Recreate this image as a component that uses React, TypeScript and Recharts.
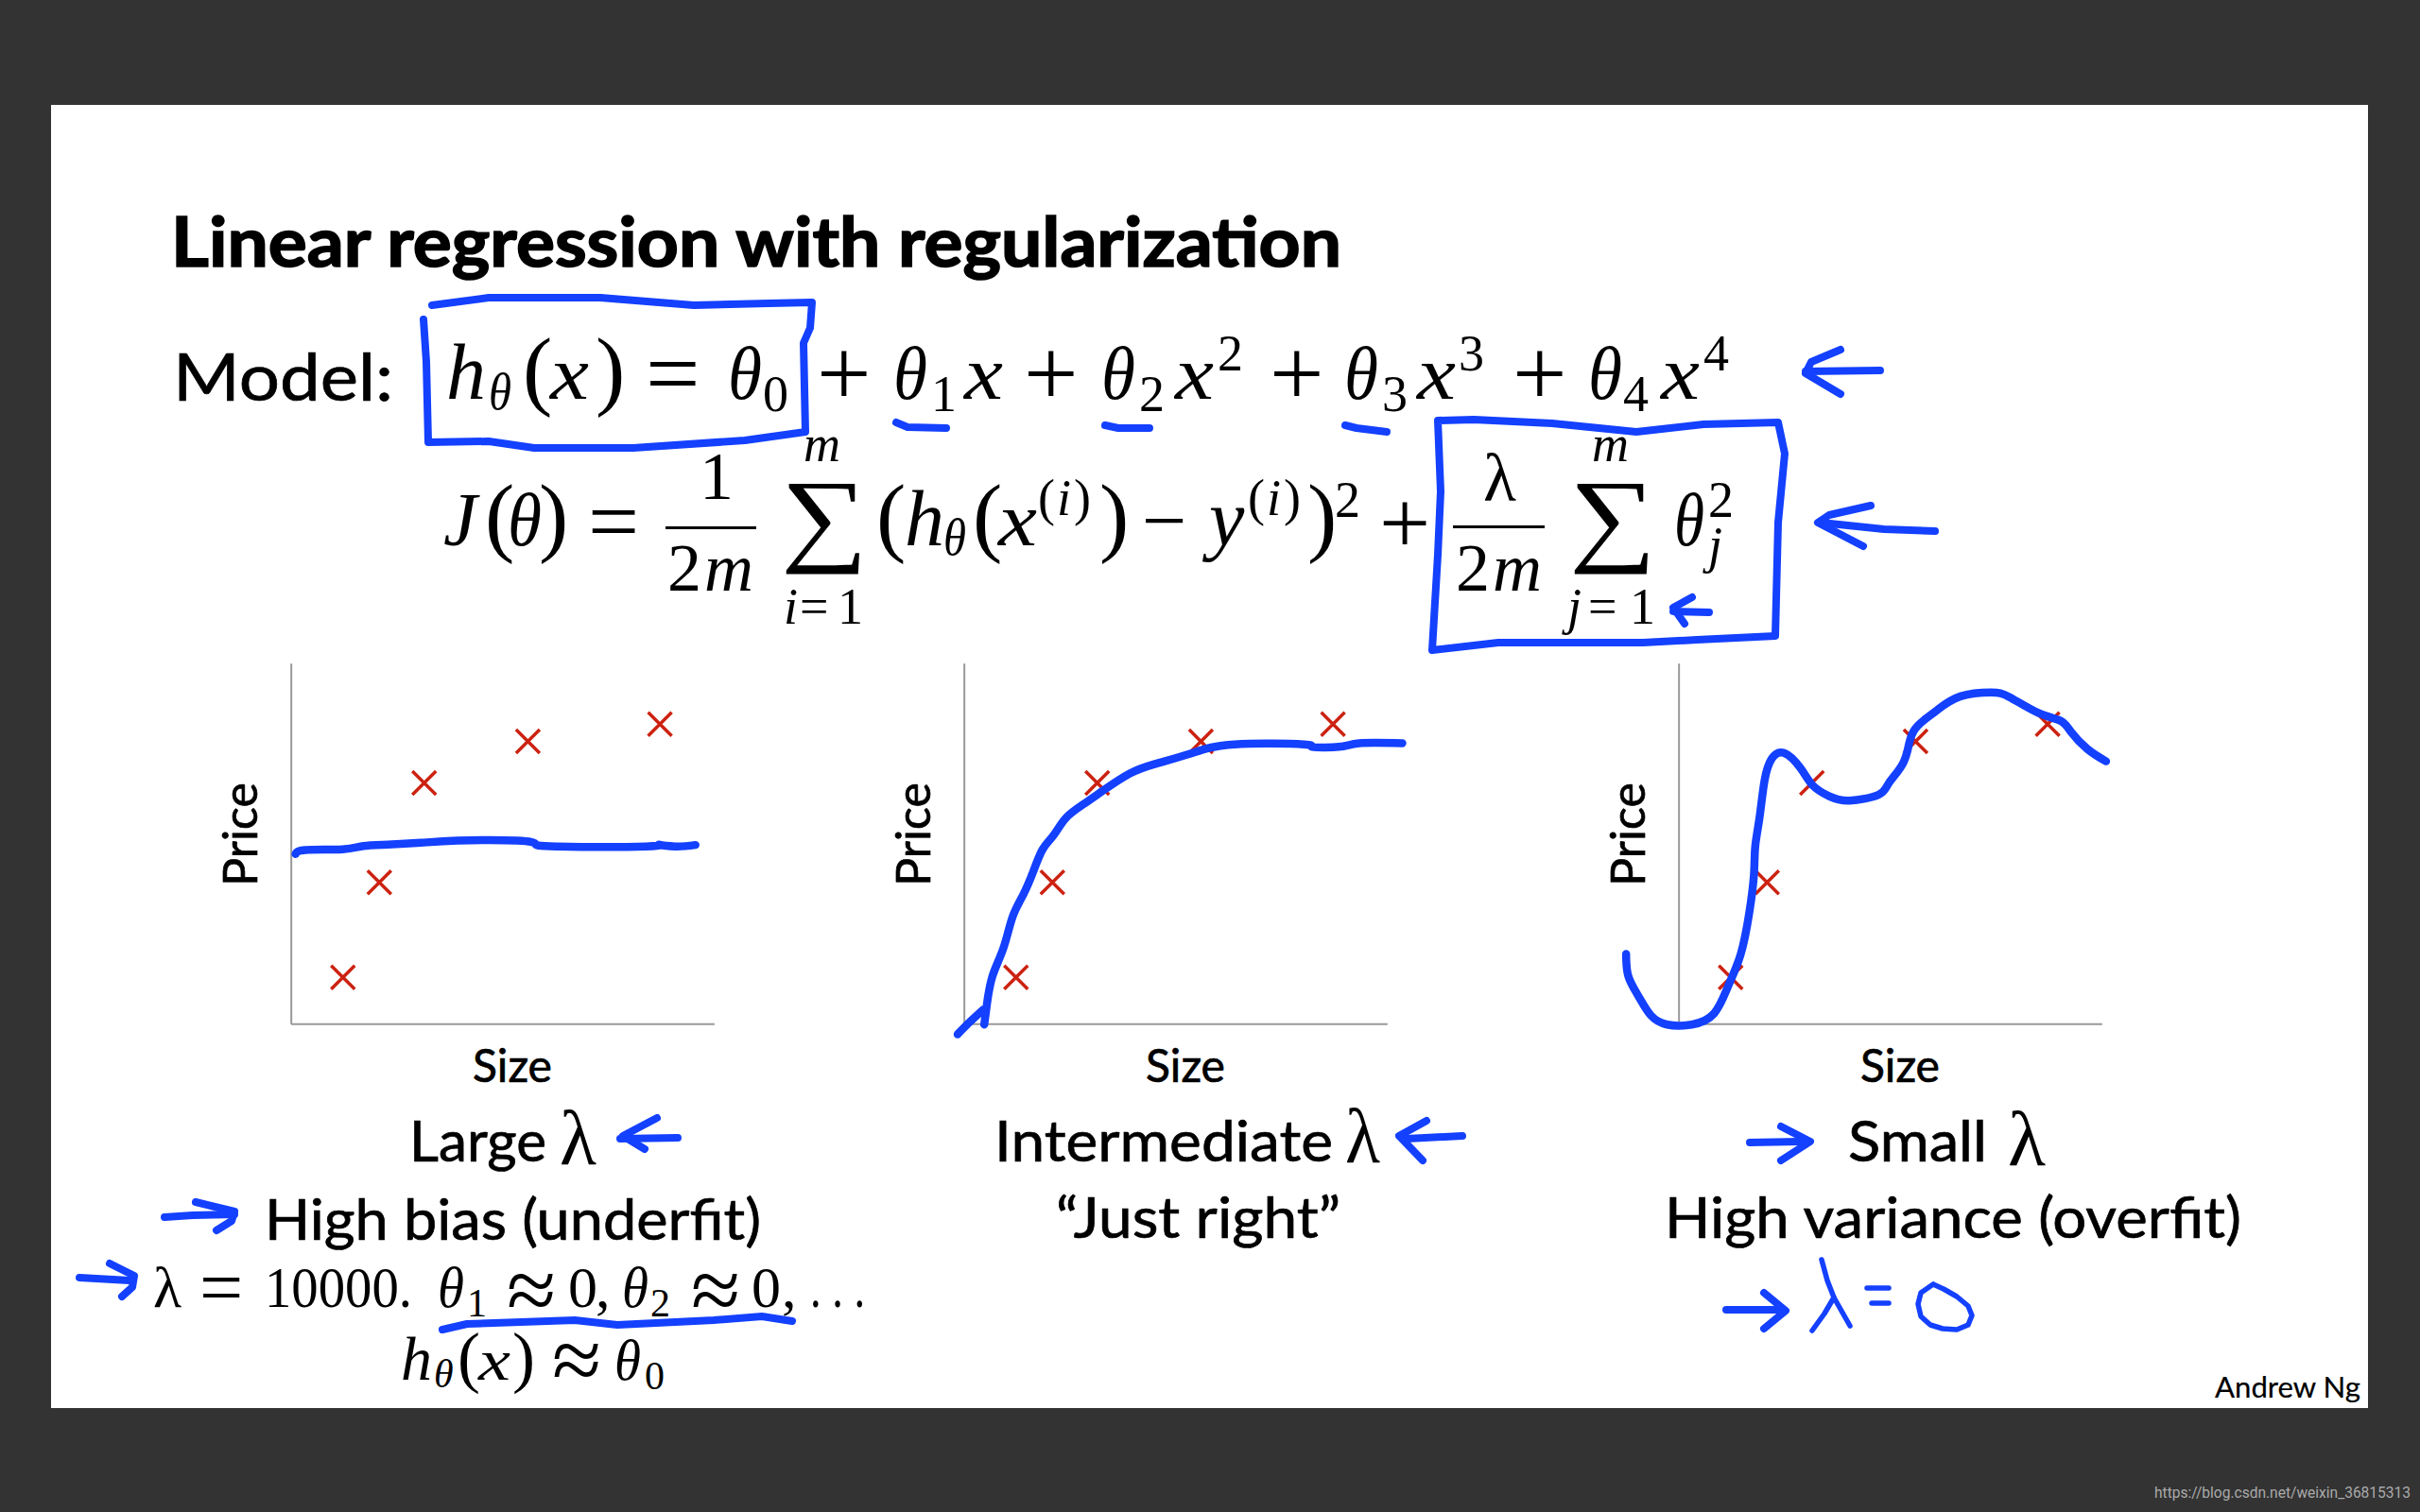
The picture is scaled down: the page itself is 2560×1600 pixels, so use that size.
import { ScatterChart, Scatter, XAxis, YAxis, ReferenceLine, Label } from 'recharts';

// same five training points in all three plots
const houseSize = [12.2, 20.8, 31.4, 55.9, 87.1];
const housePrice = [13, 39.3, 66.9, 78.4, 83.2];

const underfitSize = [1, 3.4, 12.1, 17, 22.8, 30.6, 39.3, 53.3, 57.7, 62.6, 83.9, 86.8, 90.7, 95.5];
const underfitPrice = [47.2, 48.3, 48.5, 49.4, 49.8, 50.3, 50.9, 50.9, 50, 49.3, 49.3, 49.8, 49.3, 49.7];

const rightSize = [4.7, 5.3, 6.6, 9.2, 11.4, 13.9, 16.3, 18.5, 21.1, 24, 28.4, 33.2, 39.1, 44.9, 53.6, 63.8, 80.2, 82.2, 88.5, 93.3, 103.5];
const rightPrice = [-0.1, 5.3, 13.2, 21, 29.8, 35.9, 42.4, 48.5, 52.4, 57.2, 61.2, 65.1, 69.5, 72.1, 75.1, 77.6, 77.6, 76.9, 76.9, 77.9, 77.9];
const rightStubSize = [-1.6, 0.8, 4.4];
const rightStubPrice = [-2.8, 0.1, 4];

const overfitSize = [-12.5, -12, -9.6, -6.7, -2.8, 3, 8.3, 11.7, 14.6, 16.6, 17.7, 18, 19, 20.2, 21.9, 24.8, 28.7, 31.6, 35.5, 40.3, 47.1, 49.5, 52.9, 54.4, 55.8, 58.2, 61.1, 66.5, 73.7, 78.1, 84.9, 90.2, 92.6, 96.5, 100.9];
const overfitPrice = [19.5, 13.4, 7.8, 2.5, -0.1, -0.1, 3, 10.8, 19.5, 30.9, 41.4, 49.2, 57.1, 67.5, 73.6, 75.2, 71, 66.2, 63.2, 62, 63.6, 66.7, 72.3, 78, 81.9, 84.6, 87.2, 90.9, 92, 90.7, 86.3, 84.1, 81.1, 76.3, 72.9];

const BLUE = '#1440ff';
const RED = '#cc2211';
const AXIS = '#999999';
const SANS = 'Lato';
const SERIF = '"Liberation Serif"';

const zip = (xs: number[], ys: number[]) => xs.map((x, i) => ({ x, y: ys[i] }));

// [text, x, baseline, size, italic, width]
type Run = [string, number, number, number, boolean?, number?];

const mathRuns: Run[] = [
  // model line
  ['h', 472, 422, 84, true], ['θ', 517, 433, 54, true, 24], ['(', 553, 422, 94], ['x', 582, 422, 80, true, 41], [')', 630, 422, 94],
  ['=', 683, 429, 102], ['θ', 770, 422, 80, true, 36], ['0', 807, 435, 54],
  ['+', 864, 429, 102], ['θ', 945, 422, 80, true, 36], ['1', 985, 435, 54], ['x', 1020, 422, 80, true, 41],
  ['+', 1083, 429, 102], ['θ', 1165, 422, 80, true, 36], ['2', 1205, 435, 54], ['x', 1243, 422, 80, true, 41], ['2', 1288, 392, 54],
  ['+', 1343, 429, 102], ['θ', 1422, 422, 80, true, 36], ['3', 1462, 435, 54], ['x', 1499, 422, 80, true, 41], ['3', 1543, 392, 54],
  ['+', 1600, 429, 102], ['θ', 1680, 422, 80, true, 36], ['4', 1717, 435, 54], ['x', 1757, 422, 80, true, 41], ['4', 1802, 392, 54],
  // cost line
  ['J', 469, 577, 80, true], ['(', 513, 577, 94], ['θ', 537, 577, 80, true, 36], [')', 570, 577, 94], ['=', 622, 584, 96],
  ['1', 740, 528, 72], ['2', 706, 625, 72], ['m', 745, 625, 72, true],
  ['m', 850, 488, 54, true], ['i', 829, 660, 54, true], ['=', 846, 660, 54], ['1', 886, 660, 54],
  ['(', 927, 577, 94], ['h', 957, 577, 84, true], ['θ', 998, 587, 54, true, 24], ['(', 1029, 577, 94], ['x', 1056, 577, 80, true, 41],
  ['(', 1098, 545, 54], ['i', 1118, 545, 54, true], [')', 1136, 545, 54], [')', 1163, 577, 94],
  ['−', 1208, 579, 84], ['y', 1279, 577, 84, true], ['(', 1320, 545, 54], ['i', 1340, 545, 54, true], [')', 1358, 545, 54],
  [')', 1383, 577, 94], ['2', 1412, 547, 54], ['+', 1459, 585, 96],
  ['λ', 1569, 530, 72], ['2', 1540, 625, 72], ['m', 1579, 625, 72, true],
  ['m', 1684, 488, 54, true], ['j', 1658, 660, 54, true], ['=', 1680, 660, 54], ['1', 1724, 660, 54],
  ['θ', 1771, 577, 80, true, 32], ['2', 1807, 547, 54], ['j', 1807, 595, 54, true],
  // large lambda notes
  ['λ', 162, 1383, 62], ['=', 211, 1390, 82], ['10000.', 280, 1383, 62, false, 156],
  ['θ', 463, 1383, 62, true, 28], ['1', 494, 1393, 42], ['≈', 536, 1397, 95], ['0', 601, 1383, 62], [',', 630, 1383, 62],
  ['θ', 658, 1383, 62, true, 28], ['2', 688, 1393, 42], ['≈', 731, 1397, 95], ['0', 795, 1383, 62], [',', 827, 1383, 62],
  ['. . .', 857, 1383, 62, false, 58],
  ['h', 424, 1460, 66, true], ['θ', 459, 1468, 42, true], ['(', 484, 1460, 72], ['x', 506, 1460, 62, true, 34], [')', 542, 1460, 72],
  ['≈', 584, 1471, 95], ['θ', 650, 1460, 62, true, 28], ['0', 682, 1470, 42],
  // lambdas next to the captions
  ['λ', 592, 1232, 82, false, 39], ['λ', 1423, 1230, 82, false, 37], ['λ', 2124, 1233, 82, false, 40],
];

const sumSigns: [number, number][] = [[826, 584], [1660, 584]];

const sansRuns: [string, number, number, number, number, number, number?][] = [
  // text, x, baseline, size, width, outline, weight
  ['Linear regression with regularization', 181, 282, 72, 1238, 1.6, 700],
  ['Model:', 183, 424, 70, 233, 0.7],
  ['Large', 433, 1229, 60, 145, 0.7],
  ['High bias (underfit)', 280, 1312, 60, 525, 0.7],
  ['Intermediate', 1052, 1229, 60, 358, 0.7],
  ['“Just right”', 1117, 1310, 60, 301, 0.7],
  ['Small', 1955, 1229, 60, 147, 0.7],
  ['High variance (overfit)', 1761, 1310, 60, 610, 0.7],
  ['Andrew Ng', 2343, 1479, 30, 154, 0.2],
];

// pen strokes drawn over the slide, page coordinates
const thickInk: number[][][] = [
  [[457, 323], [517, 315], [635, 315], [734, 323], [813, 321], [859, 320], [857, 347], [850, 363], [852, 457], [845, 458], [788, 466], [670, 474], [565, 474], [517, 467], [453, 468], [451, 383], [448, 338]],
  [[948, 447], [960, 452], [1001, 453]],
  [[1169, 450], [1183, 453], [1216, 453]],
  [[1423, 450], [1435, 453], [1467, 457]],
  [[1910, 393], [1989, 392]],
  [[1947, 370], [1916, 383], [1910, 395], [1947, 417]],
  [[1521, 445], [1559, 444], [1642, 448], [1731, 457], [1802, 449], [1881, 447], [1888, 480], [1881, 553], [1878, 673], [1795, 677], [1738, 680], [1585, 680], [1515, 688], [1521, 587], [1524, 520], [1521, 445]],
  [[1926, 553], [1993, 560], [2047, 562]],
  [[1979, 535], [1935, 545], [1923, 553], [1971, 578]],
  [[1770, 647], [1808, 648]],
  [[1790, 632], [1770, 643], [1782, 660]],
  [[656, 1205], [717, 1204]],
  [[695, 1183], [659, 1202], [682, 1216]],
  [[174, 1288], [204, 1286], [248, 1285]],
  [[207, 1272], [248, 1282], [245, 1292], [229, 1302]],
  [[84, 1352], [137, 1355]],
  [[116, 1337], [142, 1350], [140, 1362], [129, 1372]],
  [[468, 1407], [494, 1401], [608, 1397], [653, 1402], [755, 1397], [806, 1393], [838, 1398]],
  [[1488, 1205], [1547, 1202]],
  [[1509, 1186], [1480, 1202], [1505, 1228]],
  [[1851, 1209], [1905, 1208]],
  [[1884, 1192], [1915, 1208], [1884, 1228]],
  [[1826, 1386], [1880, 1386]],
  [[1866, 1368], [1889, 1387], [1866, 1406]],
];
const thinInk: number[][][] = [
  [[1927, 1333], [1933, 1355], [1940, 1373], [1957, 1403]],
  [[1940, 1373], [1930, 1390], [1917, 1408]],
  [[1975, 1363], [1998, 1363]],
  [[1980, 1379], [1998, 1379]],
  [[2045, 1359], [2056, 1364], [2070, 1372], [2082, 1382], [2086, 1392], [2082, 1402], [2070, 1407], [2055, 1406], [2042, 1402], [2032, 1393], [2029, 1380], [2032, 1368], [2045, 1359]],
];

const Cross = (props: any) => {
  const { cx, cy } = props;
  const r = 12.5;
  return (
    <path
      d={`M${cx - r} ${cy - r}L${cx + r} ${cy + r}M${cx + r} ${cy - r}L${cx - r} ${cy + r}`}
      stroke={RED}
      strokeWidth={3.5}
      fill="none"
    />
  );
};

const NoDot = () => null;

function FitPlot({ left, fits }: { left: number; fits: number[][][] }) {
  return (
    <div style={{ position: 'absolute', left: left - 40, top: 664 }}>
      <ScatterChart width={622} height={538} margin={{ top: 0, right: 0, bottom: 80, left: 40 }}>
        <XAxis type="number" dataKey="x" domain={[-15, 115]} hide />
        <YAxis type="number" dataKey="y" domain={[-10, 110]} hide />
        <ReferenceLine
          segment={[{ x: 0, y: 0 }, { x: 100, y: 0 }]}
          stroke={AXIS}
          strokeWidth={2}
          ifOverflow="visible"
          label={<Label value="Size" position="center" dx={10} dy={44} fontSize={48} fontFamily={SANS} fill="#000" stroke="#000" strokeWidth={0.7} />}
        />
        <ReferenceLine
          segment={[{ x: 0, y: 0 }, { x: 0, y: 100 }]}
          stroke={AXIS}
          strokeWidth={2}
          ifOverflow="visible"
          label={<Label value="Price" position="center" angle={-90} dx={-54} dy={-10} fontSize={50} fontFamily={SANS} fill="#000" stroke="#000" strokeWidth={0.7} />}
        />
        <Scatter data={zip(houseSize, housePrice)} shape={Cross} isAnimationActive={false} />
        {fits.map((f, i) => (
          <Scatter
            key={i}
            data={zip(f[0], f[1])}
            shape={NoDot}
            line={{ stroke: BLUE, strokeWidth: 8.5, strokeLinecap: 'round', strokeLinejoin: 'round' }}
            lineJointType="natural"
            isAnimationActive={false}
          />
        ))}
      </ScatterChart>
    </div>
  );
}

const inkPath = (pts: number[][]) => 'M' + pts.map((p) => p.join(' ')).join('L');

export default function App() {
  return (
    <div style={{ position: 'absolute', left: 0, top: 0, width: 2560, height: 1600, background: '#333333', overflow: 'hidden' }}>
      <div style={{ position: 'absolute', left: 54, top: 111, width: 2451, height: 1379, background: '#fff' }} />

      <FitPlot left={241} fits={[[underfitSize, underfitPrice]]} />
      <FitPlot left={953} fits={[[rightSize, rightPrice], [rightStubSize, rightStubPrice]]} />
      <FitPlot left={1709} fits={[[overfitSize, overfitPrice]]} />

      <svg width={2560} height={1600} style={{ position: 'absolute', left: 0, top: 0, pointerEvents: 'none' }}>
        {sansRuns.map(([t, x, y, size, w, outline, weight], i) => (
          <text
            key={i}
            x={x}
            y={y}
            fontFamily={SANS}
            fontSize={size}
            fontWeight={weight ?? 400}
            stroke="#000"
            strokeWidth={outline}
            textLength={w}
            lengthAdjust="spacingAndGlyphs"
          >
            {t}
          </text>
        ))}
        {mathRuns.map(([t, x, y, size, italic, w], i) => (
          <text
            key={i}
            x={x}
            y={y}
            fontFamily={SERIF}
            fontSize={size}
            fontStyle={italic ? 'italic' : 'normal'}
            textLength={w}
            lengthAdjust={w ? 'spacingAndGlyphs' : undefined}
          >
            {t}
          </text>
        ))}
        {sumSigns.map(([x, y], i) => (
          <text key={i} x={x} y={y} fontFamily={SERIF} fontSize={110} textLength={92} lengthAdjust="spacingAndGlyphs">
            ∑
          </text>
        ))}
        <rect x={704} y={557} width={96} height={3} fill="#000" />
        <rect x={1537} y={556} width={97} height={3} fill="#000" />
        <text x={2279} y={1585} fontFamily="Roboto" fontSize={17} fill="#aaaaaa" textLength={271} lengthAdjust="spacingAndGlyphs">
          https://blog.csdn.net/weixin_36815313
        </text>
        {thickInk.map((pts, i) => (
          <path key={i} d={inkPath(pts)} fill="none" stroke={BLUE} strokeWidth={8} strokeLinecap="round" strokeLinejoin="round" />
        ))}
        {thinInk.map((pts, i) => (
          <path key={i} d={inkPath(pts)} fill="none" stroke={BLUE} strokeWidth={5.5} strokeLinecap="round" strokeLinejoin="round" />
        ))}
      </svg>
    </div>
  );
}
